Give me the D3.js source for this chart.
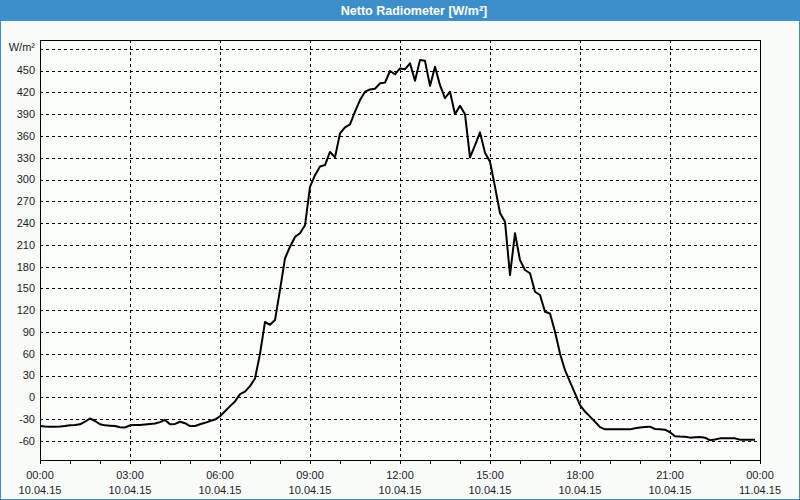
<!DOCTYPE html>
<html>
<head>
<meta charset="utf-8">
<script src="https://cdn.jsdelivr.net/npm/d3@7"></script>
<style>
  html, body { margin: 0; padding: 0; background: #fafcfa; }
  svg { display: block; }
  text { font-family: "Liberation Sans", Arial, sans-serif; }
</style>
</head>
<body>
<svg id="chart" width="800" height="500"></svg>
<script>
// ---- data ----
const title = "Netto Radiometer [W/m²]";
const unitLabel = "W/m²";
const startMinute = 0;        // 00:00 on 10.04.15
const stepMinutes = 10;       // sample interval
const values = [
  -39.5, -40, -40.3, -40.3, -40, -39.5, -38.5, -38, -37, -33.5, -29, -32.5,
  -37, -38.5, -39, -39.4, -41, -41.5, -38.5, -38, -38, -37.2, -36.5, -36,
  -34, -31, -37, -36.5, -33.5, -35.5, -39.4, -39.4, -37, -35, -32.5, -30.5,
  -26, -19, -12, -5.5, 4.5, 8, 15.5, 26, 60, 104, 100, 106.5,
  148, 191.5, 207.5, 221, 226, 237, 290, 306, 318, 320, 338, 330.5,
  363.5, 372, 376, 393.5, 409.5, 421, 424, 425, 432.5, 433.5, 449.5, 445,
  453, 452, 460, 436, 464.5, 463.5, 429, 455.5, 430, 412, 421, 390,
  401.5, 390, 330.5, 347, 365, 337, 324.5, 290, 254, 242, 168.5, 226,
  189, 175.5, 171, 145.5, 141, 118, 115.5, 90.5, 60.5, 37.5, 21.5, 5.5,
  -10.5, -19.5, -26.5, -33.5, -41, -44, -44, -44, -44, -44, -44, -42.5,
  -41.5, -40.8, -40.3, -43.5, -44, -44.5, -48, -53.5, -54, -54.2, -55.4, -55,
  -54.5, -55.5, -59, -58, -56.4, -56.4, -56.4, -56.4, -58.2, -58.2, -58.2, -58.2
];
const yTicks = [-60, -30, 0, 30, 60, 90, 120, 150, 180, 210, 240, 270, 300, 330, 360, 390, 420, 450];
const yGridExtra = [480];
const xMajorHours = [0, 3, 6, 9, 12, 15, 18, 21, 24];
const xTimeLabels = ["00:00", "03:00", "06:00", "09:00", "12:00", "15:00", "18:00", "21:00", "00:00"];
const xDateLabels = ["10.04.15", "10.04.15", "10.04.15", "10.04.15", "10.04.15", "10.04.15", "10.04.15", "10.04.15", "11.04.15"];

// ---- layout ----
const W = 800, H = 500;
const plot = { left: 40, right: 760, top: 40, bottom: 460 };

const svg = d3.select("#chart");

// window background + border
svg.append("rect").attr("x", 0).attr("y", 0).attr("width", W).attr("height", H).attr("fill", "#fafcfa");
svg.append("rect").attr("x", 0.5).attr("y", 0.5).attr("width", W - 1).attr("height", H - 1)
  .attr("fill", "none").attr("stroke", "#3c8fc8").attr("stroke-width", 1);
// title bar
svg.append("rect").attr("x", 0).attr("y", 0).attr("width", W).attr("height", 21).attr("fill", "#3c8fc8");
svg.append("text").attr("x", 414).attr("y", 15).attr("text-anchor", "middle")
  .attr("fill", "#ffffff").attr("font-weight", "bold").attr("font-size", "12.5px").text(title);

// scales
const x = d3.scaleLinear().domain([0, 1440]).range([plot.left, plot.right]);
const y = d3.scaleLinear().domain([-86.2, 492.2]).range([plot.bottom, plot.top]);

const g = svg.append("g");
g.append("rect").attr("x", plot.left).attr("y", plot.top)
  .attr("width", plot.right - plot.left).attr("height", plot.bottom - plot.top).attr("fill", "#fbfdfb");

// horizontal grid
g.selectAll("line.hgrid").data(yTicks.concat(yGridExtra)).enter().append("line")
  .attr("class", "hgrid")
  .attr("x1", plot.left).attr("x2", plot.right)
  .attr("y1", d => Math.round(y(d)) + 0.5).attr("y2", d => Math.round(y(d)) + 0.5)
  .attr("stroke", "#000").attr("stroke-width", 1).attr("stroke-dasharray", "3,3");

// vertical grid at inner major hours
g.selectAll("line.vgrid").data(xMajorHours.slice(1, -1)).enter().append("line")
  .attr("class", "vgrid")
  .attr("x1", d => Math.round(x(d * 60)) + 0.5).attr("x2", d => Math.round(x(d * 60)) + 0.5)
  .attr("y1", plot.top).attr("y2", plot.bottom)
  .attr("stroke", "#000").attr("stroke-width", 1).attr("stroke-dasharray", "3,3");

// y labels
g.selectAll("text.ylab").data(yTicks).enter().append("text")
  .attr("class", "ylab")
  .attr("x", 35).attr("y", d => y(d)).attr("dy", "0.35em")
  .attr("text-anchor", "end").attr("font-size", "11px").attr("fill", "#1a1a2a")
  .text(d => d);
g.append("text").attr("x", 35).attr("y", y(480)).attr("dy", "0.2em")
  .attr("text-anchor", "end").attr("font-size", "11px").attr("fill", "#1a1a2a").text(unitLabel);

// x axis ticks (hourly) via d3 axis
const xAxis = d3.axisBottom(x)
  .tickValues(d3.range(0, 25).map(h => h * 60))
  .tickSize(4).tickFormat("");
const ax = g.append("g").attr("transform", `translate(0,${plot.bottom})`).call(xAxis);
ax.select(".domain").remove();
ax.selectAll(".tick line").attr("stroke", "#000");

// x labels
const xl = g.selectAll("g.xlab").data(xMajorHours).enter().append("g")
  .attr("class", "xlab")
  .attr("transform", d => `translate(${x(d * 60)},0)`);
xl.append("text").attr("y", 479).attr("text-anchor", "middle").attr("font-size", "11px")
  .attr("fill", "#1a1a2a").text((d, i) => xTimeLabels[i]);
xl.append("text").attr("y", 494).attr("text-anchor", "middle").attr("font-size", "11px")
  .attr("fill", "#1a1a2a").text((d, i) => xDateLabels[i]);

// frame
g.append("rect").attr("x", plot.left + 0.5).attr("y", plot.top + 0.5)
  .attr("width", plot.right - plot.left).attr("height", plot.bottom - plot.top)
  .attr("fill", "none").attr("stroke", "#000").attr("stroke-width", 1);

// data line
const line = d3.line()
  .x((d, i) => x(startMinute + i * stepMinutes))
  .y(d => y(d));
g.append("path").datum(values)
  .attr("d", line)
  .attr("fill", "none").attr("stroke", "#000").attr("stroke-width", 2)
  .attr("stroke-linejoin", "round");
</script>
</body>
</html>
